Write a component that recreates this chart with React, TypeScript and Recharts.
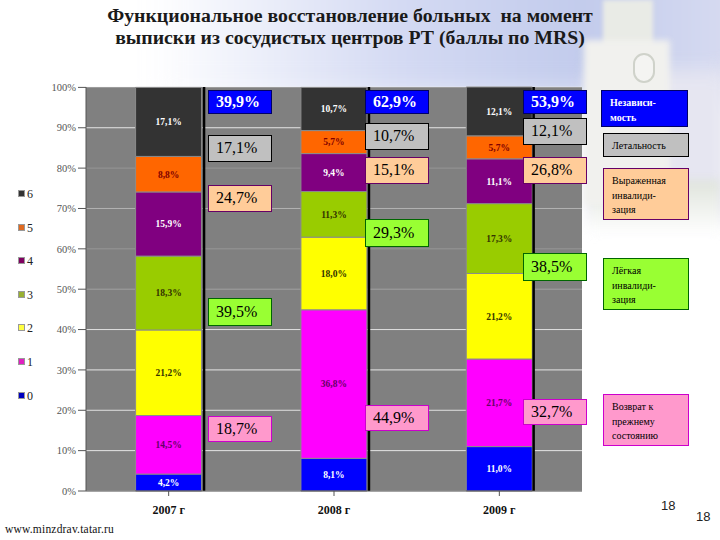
import React from 'react';
import { BarChart, Bar, XAxis, YAxis, CartesianGrid, LabelList, ReferenceLine } from 'recharts';

const years = ['2007 г', '2008 г', '2009 г'];
const score0 = [4.2, 8.1, 11.0];
const score1 = [14.5, 36.8, 21.7];
const score2 = [21.2, 18.0, 21.2];
const score3 = [18.3, 11.3, 17.3];
const score4 = [15.9, 9.4, 11.1];
const score5 = [8.8, 5.7, 5.7];
const score6 = [17.1, 10.7, 12.1];
const yTicks = [0, 10, 20, 30, 40, 50, 60, 70, 80, 90, 100];
const legendNames = ['6', '5', '4', '3', '2', '1', '0'];
const independent = ['39,9%', '62,9%', '53,9%'];
const lethal = ['17,1%', '10,7%', '12,1%'];
const severe = ['24,7%', '15,1%', '26,8%'];
const mild = ['39,5%', '29,3%', '38,5%'];
const recovered = ['18,7%', '44,9%', '32,7%'];
const dividers = [0.476, 1.141, 1.805];

const data = years.map((y, i) => ({
  year: y,
  s0: score0[i], s1: score1[i], s2: score2[i], s3: score3[i],
  s4: score4[i], s5: score5[i], s6: score6[i],
}));

const series = [
  { key: 's0', fill: '#0000ff', label: '#ffffff' },
  { key: 's1', fill: '#ff00ff', label: '#660066' },
  { key: 's2', fill: '#ffff00', label: '#333300' },
  { key: 's3', fill: '#99cc00', label: '#333300' },
  { key: 's4', fill: '#800080', label: '#ffffff' },
  { key: 's5', fill: '#ff6600', label: '#800000' },
  { key: 's6', fill: '#333333', label: '#ffffff' },
];

const legendColors = ['#333333', '#e06a20', '#800060', '#99b030', '#ffff40', '#e020c0', '#0000c0'];
const gridOpacity = [1, 0.9, 0.85, 0.9, 0.85, 0.3, 0.2, 0.45, 0.2, 0.9, 0];

const boxStyles = {
  blue: { background: '#0000ff', borderColor: '#000066', color: '#ffffff', fontWeight: 'bold' },
  gray: { background: '#c0c0c0', borderColor: '#000000', color: '#000000' },
  peach: { background: '#ffcc99', borderColor: '#660066', color: '#000000' },
  lime: { background: '#99ff33', borderColor: '#006600', color: '#000000' },
  pink: { background: '#ff99cc', borderColor: '#cc00cc', color: '#000000' },
};

const Box = ({ x, y, w, h, kind, text, small }: any) => (
  <div
    style={{
      position: 'absolute', left: x, top: y, width: w, height: h, boxSizing: 'border-box',
      border: '1px solid', ...boxStyles[kind],
      fontFamily: '"Liberation Serif", serif',
      fontSize: small ? 10 : 16,
      lineHeight: small ? '14.5px' : `${h - 3}px`,
      paddingLeft: small ? 8 : 7,
      paddingTop: small ? 5 : 0,
      whiteSpace: 'pre',
    }}
  >
    {text}
  </div>
);

// rough stand-in for the slide's photo backdrop
function Background() {
  return (
    <div style={{ position: 'absolute', inset: 0, overflow: 'hidden', background: '#ffffff' }}>
      <div style={{ position: 'absolute', left: 150, top: -40, width: 620, height: 140, background: 'linear-gradient(90deg, #ffffff 0%, #d4daf3 40%, #c2cbec 70%, #dcdff2 100%)', filter: 'blur(16px)' }} />
      <div style={{ position: 'absolute', left: 590, top: 70, width: 140, height: 150, background: '#e6e6f1', filter: 'blur(10px)' }} />
      <div style={{ position: 'absolute', left: 590, top: 180, width: 130, height: 55, background: 'linear-gradient(180deg, #dfe4dc 0%, #ffffff 100%)', filter: 'blur(4px)' }} />
      <div style={{ position: 'absolute', left: 603, top: 0, width: 50, height: 48, background: '#e9ebe6', filter: 'blur(2px)' }} />
      <div style={{ position: 'absolute', left: 584, top: 40, width: 86, height: 165, background: '#f1f1ee', filter: 'blur(3px)' }} />
      <div style={{ position: 'absolute', left: 633, top: 53, width: 22, height: 30, borderRadius: 12, background: '#f4f4f2', border: '2px solid #cfd2ca', boxSizing: 'border-box', filter: 'blur(0.5px)' }} />
    </div>
  );
}

export default function App() {
  return (
    <div style={{ position: 'absolute', left: 0, top: 0, width: 720, height: 540, overflow: 'hidden' }}>
      <Background />

      <div style={{ position: 'absolute', left: 0, top: 4, width: 700, textAlign: 'center', fontFamily: '"Liberation Serif", serif', fontWeight: 'bold', fontSize: 19.8, lineHeight: '22px', color: '#1a1a1a' }}>
        Функциональное восстановление больных&nbsp; на момент<br />
        выписки из сосудистых центров РТ (баллы по MRS)
      </div>

      <div style={{ position: 'absolute', left: 0, top: 0 }}>
        <BarChart width={720} height={540} data={data} barCategoryGap="30%" margin={{ top: 87, right: 138, bottom: 19, left: 46 }} style={{ fontFamily: '"Liberation Serif", serif' }}>
          <CartesianGrid
            vertical={false}
            fill="#808080"
            horizontal={(p: any) => (
              <line key={p.key} x1={p.x1} x2={p.x2} y1={p.y1} y2={p.y2} stroke="#f0f0f0" strokeWidth={1} strokeOpacity={gridOpacity[p.index] ?? 0.5} />
            )}
          />
          <XAxis dataKey="year" tick={{ fontSize: 12, fontWeight: 'bold', fill: '#111111' }} tickMargin={9} tickLine={{ stroke: '#555555' }} axisLine={{ stroke: '#555555' }} tickSize={5} />
          <XAxis xAxisId="marks" type="number" domain={[0, 2]} allowDataOverflow hide />
          <YAxis domain={[0, 100]} ticks={yTicks} interval={0} width={40} tickFormatter={(v) => `${v}%`} tick={{ fontSize: 10.5, fill: '#555555' }} tickSize={8} tickLine={{ stroke: '#555555' }} axisLine={{ stroke: '#555555' }} />
          {series.map((s) => (
            <Bar key={s.key} dataKey={s.key} stackId="a" fill={s.fill} stroke="#8c8c8c" strokeWidth={1} isAnimationActive={false}>
              <LabelList dataKey={s.key} position="center" formatter={(v: number) => `${v.toFixed(1).replace('.', ',')}%`} style={{ fontSize: 9.5, fontWeight: 'bold', fill: s.label }} />
            </Bar>
          ))}
          {dividers.map((v) => (
            <ReferenceLine key={v} xAxisId="marks" x={v} stroke="#000000" strokeWidth={2.5} />
          ))}
        </BarChart>
      </div>

      {legendNames.map((n, i) => (
        <div key={n} style={{ position: 'absolute', left: 18, top: 187 + i * 33.6, height: 14, lineHeight: '14px', fontFamily: '"Liberation Serif", serif', fontSize: 12, color: '#222222' }}>
          <span style={{ display: 'inline-block', boxSizing: 'border-box', width: 7, height: 7, background: legendColors[i], border: '1px solid #999999', marginRight: 2, verticalAlign: 1 }} />
          {n}
        </div>
      ))}

      {[0, 1, 2].map((i) => {
        const x = [208, 365, 523][i];
        const w = 64;
        return (
          <React.Fragment key={i}>
            <Box x={x} y={90} w={w} h={24} kind="blue" text={independent[i]} />
            <Box x={x} y={[135, 123, 118][i]} w={w} h={27} kind="gray" text={lethal[i]} />
            <Box x={x} y={[185, 157, 157][i]} w={w} h={27} kind="peach" text={severe[i]} />
            <Box x={x} y={[298, 219, 253][i]} w={w} h={28} kind="lime" text={mild[i]} />
            <Box x={x} y={[416, 405, 399][i]} w={w} h={26} kind="pink" text={recovered[i]} />
          </React.Fragment>
        );
      })}

      <Box x={601} y={90} w={87} h={37} kind="blue" small text={'Независи-\nмость'} />
      <Box x={603} y={133} w={86} h={24} kind="gray" small text="Летальность" />
      <Box x={603} y={168} w={86} h={52} kind="peach" small text={'Выраженная\nинвалиди-\nзация'} />
      <Box x={603} y={258} w={86} h={52} kind="lime" small text={'Лёгкая\nинвалиди-\nзация'} />
      <Box x={603} y={394} w={86} h={52} kind="pink" small text={'Возврат к\nпрежнему\nсостоянию'} />

      <div style={{ position: 'absolute', left: 661, top: 498, fontFamily: '"Liberation Sans", sans-serif', fontSize: 13, color: '#222222' }}>18</div>
      <div style={{ position: 'absolute', left: 696, top: 509, fontFamily: '"Liberation Sans", sans-serif', fontSize: 13, color: '#222222' }}>18</div>
      <div style={{ position: 'absolute', left: 5, top: 523, fontFamily: '"Liberation Serif", serif', fontSize: 11.5, color: '#111111', letterSpacing: 0.2 }}>www.minzdrav.tatar.ru</div>
    </div>
  );
}
